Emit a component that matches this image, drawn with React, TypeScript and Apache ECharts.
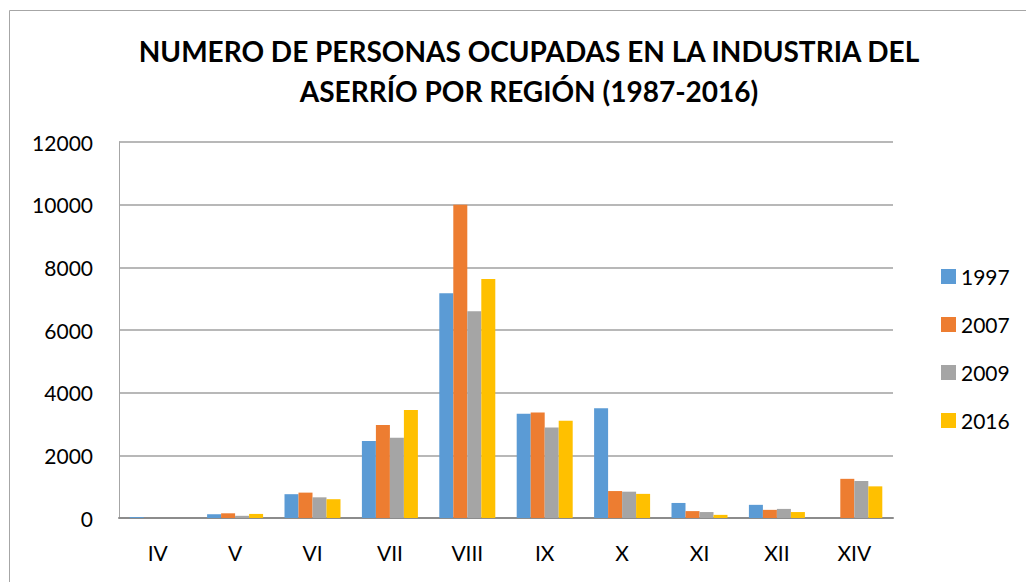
import React, { useEffect, useRef } from "react";
import * as echarts from "echarts";

const categories = ["IV", "V", "VI", "VII", "VIII", "IX", "X", "XI", "XII", "XIV"];
const years = ["1997", "2007", "2009", "2016"];
const values1997 = [30, 120, 760, 2460, 7170, 3330, 3500, 480, 420, 0];
const values2007 = [0, 150, 810, 2970, 10000, 3370, 860, 220, 260, 1250];
const values2009 = [0, 70, 660, 2560, 6600, 2890, 840, 190, 290, 1180];
const values2016 = [0, 130, 600, 3450, 7630, 3100, 770, 100, 190, 1010];
const seriesValues = [values1997, values2007, values2009, values2016];
const colors = ["#5B9BD5", "#ED7D31", "#A5A5A5", "#FFC000"];

export default function App() {
  const ref = useRef<HTMLDivElement>(null);
  useEffect(() => {
    if (!ref.current) return;
    const chart = echarts.init(ref.current, null, { renderer: "svg" });
    const font = "Lato, 'Open Sans', sans-serif";
    chart.setOption({
      animation: false,
      backgroundColor: "#ffffff",
      textStyle: { fontFamily: font },
      title: {
        text: "NUMERO DE PERSONAS OCUPADAS EN LA INDUSTRIA DEL\nASERRÍO POR REGIÓN (1987-2016)",
        left: 524,
        textAlign: "center",
        top: 26,
        textStyle: {
          fontFamily: font,
          fontWeight: "bold",
          fontSize: 28,
          lineHeight: 40,
          color: "#000000",
        },
      },
      graphic: [
        {
          type: "rect",
          shape: { x: 9.5, y: 10.5, width: 1040, height: 600 },
          style: { fill: "none", stroke: "#a6a6a6", lineWidth: 1 },
          silent: true,
        },
      ],
      legend: {
        orient: "vertical",
        left: 936,
        top: 261,
        itemWidth: 15,
        itemHeight: 15,
        itemGap: 27,
        icon: "rect",
        textStyle: { fontFamily: font, fontSize: 21, color: "#000" },
        data: years,
      },
      grid: { left: 119, right: 133, top: 142, bottom: 64 },
      xAxis: {
        type: "category",
        data: categories,
        axisLine: { show: true, lineStyle: { color: "#8c8c8c", width: 2 } },
        axisTick: { show: false },
        axisLabel: { fontFamily: font, fontSize: 21, color: "#000", margin: 24 },
      },
      yAxis: {
        type: "value",
        min: 0,
        max: 12000,
        interval: 2000,
        axisLine: { show: true, lineStyle: { color: "#a6a6a6", width: 1 } },
        axisTick: { show: false },
        axisLabel: {
          fontFamily: font,
          fontSize: 21,
          color: "#000",
          margin: 26,
          formatter: (v: number) => String(v),
        },
        splitLine: { lineStyle: { color: "#a0a0a0", width: 1.5 } },
      },
      series: years.map((y, i) => ({
        name: y,
        type: "bar",
        data: seriesValues[i],
        barWidth: 14,
        barGap: "0%",
        itemStyle: { color: colors[i] },
      })),
    });
    return () => chart.dispose();
  }, []);
  return (
    <div
      ref={ref}
      style={{ position: "fixed", left: 0, top: 0, width: 1026, height: 582 }}
    />
  );
}
